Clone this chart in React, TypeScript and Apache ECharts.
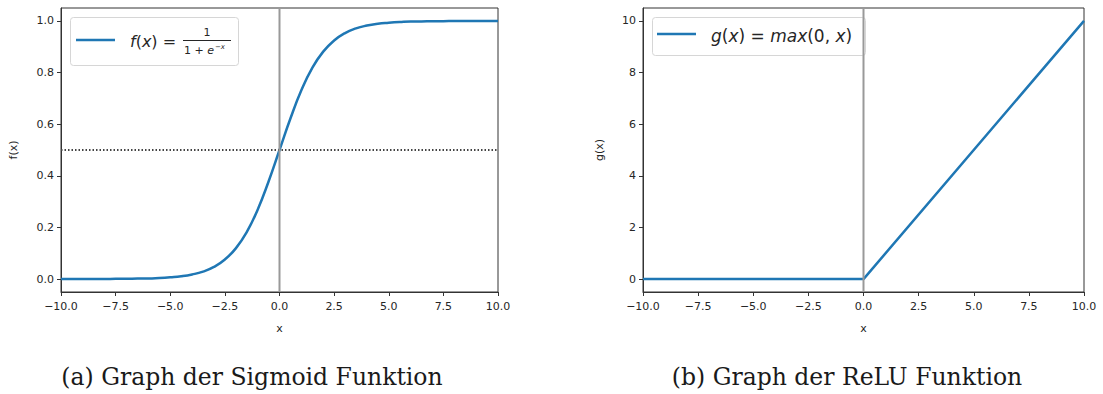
import React, { useEffect, useRef } from "react";
import * as echarts from "echarts";

// Sigmoid curve
const sigmoidX = [-10, -9.5, -9, -8.5, -8, -7.5, -7, -6.5, -6, -5.5, -5, -4.5, -4, -3.5, -3, -2.5, -2, -1.5, -1, -0.5, 0,
  0.5, 1, 1.5, 2, 2.5, 3, 3.5, 4, 4.5, 5, 5.5, 6, 6.5, 7, 7.5, 8, 8.5, 9, 9.5, 10];
const sigmoidY = [0.0, 0.0, 0.0, 0.0, 0.0, 0.001, 0.001, 0.002, 0.002, 0.004, 0.007, 0.011, 0.018, 0.029, 0.047, 0.076, 0.119, 0.182, 0.269, 0.378, 0.5,
  0.622, 0.731, 0.818, 0.881, 0.924, 0.953, 0.971, 0.982, 0.989, 0.993, 0.996, 0.998, 0.998, 0.999, 0.999, 1.0, 1.0, 1.0, 1.0, 1.0];

// ReLU curve
const reluX = [-10, 0, 10];
const reluY = [0, 0, 10];

// Axes
const xRange = [-10, 10];
const xInterval = 2.5;
const sigmoidYRange = [-0.05, 1.05];
const sigmoidYTicks = [0, 0.2, 0.4, 0.6, 0.8, 1.0];
const reluYRange = [-0.5, 10.5];
const reluYTicks = [0, 2, 4, 6, 8, 10];
const sigmoidThreshold = 0.5;
const xAxisName = "x";
const yAxisNames = ["f(x)", "g(x)"];
const captions = ["(a) Graph der Sigmoid Funktion", "(b) Graph der ReLU Funktion"];

const BLUE = "#1f77b4";
const AXIS = "#333333";
const LABEL = "#262626";
const MATH_FONT = "DejaVu Sans";

function fmtX(v: number) {
  const s = Math.abs(v).toFixed(1);
  return v < 0 ? "\u2212" + s : s;
}

export default function App() {
  const ref = useRef<HTMLDivElement>(null);
  useEffect(() => {
    if (!ref.current) return;
    const chart = echarts.init(ref.current, undefined, { renderer: "svg" });

    const axisBase = {
      axisLine: { show: true, onZero: false, lineStyle: { color: AXIS, width: 1 } },
      axisTick: { show: true, inside: false, length: 4, lineStyle: { color: AXIS, width: 1 } },
      splitLine: { show: false },
      nameTextStyle: { color: LABEL, fontSize: 11, fontFamily: "DejaVu Sans" },
    };

    const xAxisFor = (gi: number) => ({
      ...axisBase,
      type: "value",
      gridIndex: gi,
      min: xRange[0],
      max: xRange[1],
      interval: xInterval,
      name: xAxisName,
      nameLocation: "middle",
      nameGap: 31,
      axisLabel: { color: LABEL, fontSize: 11, fontFamily: "DejaVu Sans", margin: 9, formatter: (v: number) => fmtX(v) },
    });

    const sigData = sigmoidX.map((x, i) => [x, sigmoidY[i]]);
    const reluData = reluX.map((x, i) => [x, reluY[i]]);

    const option: any = {
      animation: false,
      backgroundColor: "#ffffff",
      grid: [
        { left: 61, top: 8, width: 437, height: 284, show: true, borderColor: AXIS, borderWidth: 1, backgroundColor: "transparent" },
        { left: 643, top: 8, width: 441, height: 284, show: true, borderColor: AXIS, borderWidth: 1, backgroundColor: "transparent" },
      ],
      xAxis: [xAxisFor(0), xAxisFor(1)],
      yAxis: [
        {
          ...axisBase,
          type: "value",
          gridIndex: 0,
          min: sigmoidYRange[0],
          max: sigmoidYRange[1],
          name: yAxisNames[0],
          nameLocation: "middle",
          nameGap: 42,
          axisTick: { ...axisBase.axisTick, customValues: sigmoidYTicks },
          axisLabel: { color: LABEL, fontSize: 11, fontFamily: "DejaVu Sans", margin: 7, customValues: sigmoidYTicks, formatter: (v: number) => v.toFixed(1) },
        },
        {
          ...axisBase,
          type: "value",
          gridIndex: 1,
          min: reluYRange[0],
          max: reluYRange[1],
          name: yAxisNames[1],
          nameLocation: "middle",
          nameGap: 38,
          axisTick: { ...axisBase.axisTick, customValues: reluYTicks },
          axisLabel: { color: LABEL, fontSize: 11, fontFamily: "DejaVu Sans", margin: 7, customValues: reluYTicks, formatter: (v: number) => String(v) },
        },
      ],
      series: [
        {
          type: "line", xAxisIndex: 0, yAxisIndex: 0, data: sigData, smooth: true, showSymbol: false,
          lineStyle: { color: BLUE, width: 2.5 }, z: 3,
        },
        {
          type: "line", xAxisIndex: 0, yAxisIndex: 0, data: [[xRange[0], sigmoidThreshold], [xRange[1], sigmoidThreshold]],
          showSymbol: false, lineStyle: { color: "#444444", width: 2, type: [1.5, 2] }, z: 4,
        },
        {
          type: "line", xAxisIndex: 0, yAxisIndex: 0, data: [[0, sigmoidYRange[0]], [0, sigmoidYRange[1]]],
          showSymbol: false, lineStyle: { color: "#999999", width: 2 }, z: 5,
        },
        {
          type: "line", xAxisIndex: 1, yAxisIndex: 1, data: reluData, showSymbol: false,
          lineStyle: { color: BLUE, width: 2.5 }, z: 3,
        },
        {
          type: "line", xAxisIndex: 1, yAxisIndex: 1, data: [[0, reluYRange[0]], [0, reluYRange[1]]],
          showSymbol: false, lineStyle: { color: "#999999", width: 2 }, z: 5,
        },
      ],
      graphic: [
        // legend left
        {
          type: "group", z: 100, children: [
            { type: "rect", shape: { x: 70.5, y: 17.5, width: 168, height: 48, r: 3 }, style: { fill: "rgba(255,255,255,0.9)", stroke: "#d6d6d6", lineWidth: 1 } },
            { type: "line", shape: { x1: 76, y1: 40, x2: 115, y2: 40 }, style: { stroke: BLUE, lineWidth: 2.5 } },
            {
              type: "text", x: 130, y: 41,
              style: {
                text: "{i|f}{r|(}{i|x}{r|) =}", verticalAlign: "middle", align: "left",
                rich: {
                  i: { fontFamily: MATH_FONT, fontStyle: "italic", fontSize: 16, fill: "#262626" },
                  r: { fontFamily: MATH_FONT, fontSize: 16, fill: "#262626" },
                },
              },
            },
            { type: "text", x: 207, y: 32, style: { text: "1", fontFamily: MATH_FONT, fontSize: 11, fill: "#262626", align: "center", verticalAlign: "middle" } },
            { type: "line", shape: { x1: 183, y1: 40.5, x2: 231, y2: 40.5 }, style: { stroke: "#262626", lineWidth: 1 } },
            {
              type: "text", x: 184, y: 50,
              style: {
                text: "{r|1 + }{i|e}{s|\u2212x}", verticalAlign: "middle", align: "left",
                rich: {
                  r: { fontFamily: MATH_FONT, fontSize: 11, fill: "#262626" },
                  i: { fontFamily: MATH_FONT, fontStyle: "italic", fontSize: 11, fill: "#262626" },
                  s: { fontFamily: MATH_FONT, fontStyle: "italic", fontSize: 7, fill: "#262626", verticalAlign: "top", padding: [0, 0, 6, 1] },
                },
              },
            },
          ],
        },
        // legend right
        {
          type: "group", z: 100, children: [
            { type: "rect", shape: { x: 652.5, y: 17.5, width: 213, height: 38, r: 3 }, style: { fill: "rgba(255,255,255,0.9)", stroke: "#d6d6d6", lineWidth: 1 } },
            { type: "line", shape: { x1: 657, y1: 34, x2: 696, y2: 34 }, style: { stroke: BLUE, lineWidth: 2.5 } },
            {
              type: "text", x: 711, y: 36,
              style: {
                text: "{i|g}{r|(}{i|x}{r|) = }{i|max}{r|(0, }{i|x}{r|)}", verticalAlign: "middle", align: "left",
                rich: {
                  i: { fontFamily: MATH_FONT, fontStyle: "italic", fontSize: 17, fill: "#262626" },
                  r: { fontFamily: MATH_FONT, fontSize: 17, fill: "#262626" },
                },
              },
            },
          ],
        },
        // captions
        {
          type: "text", x: 252, y: 377,
          style: { text: captions[0], fontFamily: "DejaVu Serif", fontSize: 23.5, fill: "#1a1a1a", align: "center", verticalAlign: "middle" },
        },
        {
          type: "text", x: 847, y: 377,
          style: { text: captions[1], fontFamily: "DejaVu Serif", fontSize: 23.5, fill: "#1a1a1a", align: "center", verticalAlign: "middle" },
        },
      ],
    };

    chart.setOption(option);
    return () => chart.dispose();
  }, []);

  return <div ref={ref} style={{ position: "absolute", left: 0, top: 0, width: 1103, height: 394 }} />;
}
